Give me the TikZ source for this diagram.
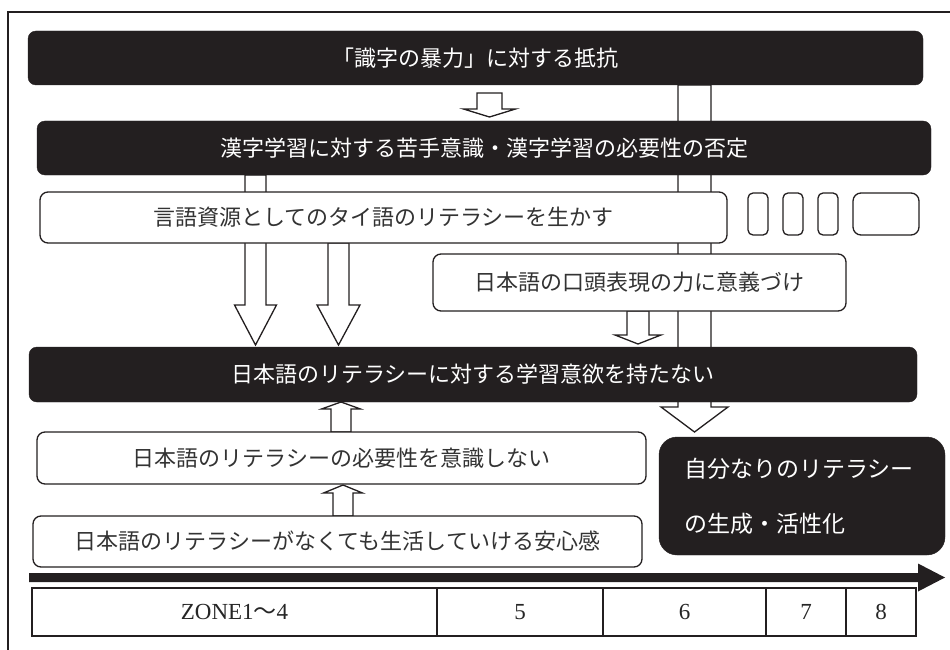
\documentclass[tikz,border=0pt]{standalone}
\usepackage{fontspec}
\newfontfamily\jp{Noto Sans CJK JP}
\newfontfamily\zf{Liberation Serif}
\usetikzlibrary{calc}
\definecolor{ink}{HTML}{231F20}
\newcommand{\zonefont}{\zf\fontsize{23}{27}\selectfont}
\tikzset{
  blackbox/.style={rounded corners=8pt, fill=ink, draw=ink, text=white, inner sep=0pt,
     font=\jp\fontsize{22}{26}\selectfont},
  whitebox/.style={rounded corners=8pt, fill=white, draw=ink, line width=1.3pt, text=black!80, inner sep=0pt,
     font=\jp\fontsize{22}{26}\selectfont},
  smallbox/.style={rounded corners=5pt, fill=white, draw=ink, line width=1.3pt, inner sep=0pt},
  hollow/.style={fill=white, draw=ink, line width=1.3pt, line join=miter},
  cell/.style={draw=ink, line width=1.3pt, inner sep=0pt, minimum height=48pt, text=black!85},
}
\newcommand{\blockarrow}[5]{%
  \draw[hollow] let \p1=(#1), \p2=(#2) in
   (\x1-#3,\y1) -- (\x1-#3,\y2+#5) -- (\x1-#4,\y2+#5) -- (\x1,\y2) -- (\x1+#4,\y2+#5) -- (\x1+#3,\y2+#5) -- (\x1+#3,\y1) -- cycle;}
\begin{document}
\begin{tikzpicture}[x=1pt,y=-1pt]
\useasboundingbox (0,0) rectangle (950,650);
% frame
\draw[ink, line width=1.5pt] (8,650) -- (8,12) -- (950,12);
% arrow end points
\coordinate (a0s) at (489.5,93);  \coordinate (a0t) at (489.5,117);
\coordinate (a1s) at (694.5,85);  \coordinate (a1t) at (694.5,432);
\coordinate (a2s) at (255.5,175); \coordinate (a2t) at (255.5,345);
\coordinate (a3s) at (338.5,243); \coordinate (a3t) at (338.5,345);
\coordinate (a4s) at (638,311);   \coordinate (a4t) at (638,344);
\coordinate (a5s) at (341,432);   \coordinate (a5t) at (341,402);
\coordinate (a6s) at (343,516);   \coordinate (a6t) at (343,485);
% hollow arrows (behind the boxes)
\blockarrow{a0s}{a0t}{12.5pt}{26pt}{8pt}
\blockarrow{a1s}{a1t}{16.5pt}{33.5pt}{25pt}
\blockarrow{a2s}{a2t}{10.5pt}{21pt}{40pt}
\blockarrow{a3s}{a3t}{10.5pt}{21.5pt}{40pt}
\blockarrow{a4s}{a4t}{11pt}{23pt}{9pt}
\blockarrow{a5s}{a5t}{10pt}{19.5pt}{-7pt}
\blockarrow{a6s}{a6t}{10pt}{19.5pt}{-8pt}
% boxes
\node[blackbox, minimum width=895pt, minimum height=54pt] (b1) at (475.5,58) {「識字の暴力」に対する抵抗};
\node[blackbox, minimum width=894pt, minimum height=54pt] (b2) at (484,148) {漢字学習に対する苦手意識・漢字学習の必要性の否定};
\node[whitebox, minimum width=687pt, minimum height=51pt] (b3) at (383.5,217.5) {言語資源としてのタイ語のリテラシーを生かす};
\node[smallbox, minimum width=20pt, minimum height=42pt] (s1) at (758,214) {};
\node[smallbox, minimum width=20pt, minimum height=42pt] (s2) at (793,214) {};
\node[smallbox, minimum width=20pt, minimum height=42pt] (s3) at (828,214) {};
\node[smallbox, rounded corners=8pt, minimum width=66pt, minimum height=42pt] (s4) at (886,214) {};
\node[whitebox, minimum width=413pt, minimum height=57pt] (b4) at (639.5,282.5) {日本語の口頭表現の力に意義づけ};
\node[blackbox, minimum width=888pt, minimum height=55pt] (b5) at (473,374.5) {日本語のリテラシーに対する学習意欲を持たない};
\node[whitebox, minimum width=609pt, minimum height=52pt] (b6) at (341.5,458) {日本語のリテラシーの必要性を意識しない};
\node[whitebox, minimum width=609pt, minimum height=51pt] (b7) at (337.5,541.5) {日本語のリテラシーがなくても生活していける安心感};
\node[blackbox, rounded corners=18pt, minimum height=118pt, text width=236pt, inner xsep=25pt, align=left,
      font=\jp\fontsize{23}{55}\selectfont] (b8) at (802,496) {自分なりのリテラシー\\の生成・活性化};
% time axis
\coordinate (ax0) at (29,577.5);
\coordinate (ax1) at (945,577.5);
\fill[ink] let \p1=(ax0), \p2=(ax1) in
  (\x1,\y1+4.5pt) -- (\x2-27pt,\y1+4.5pt) -- (\x2-27pt,\y1+14pt) -- (\x2,\y2) -- (\x2-27pt,\y1-14pt) -- (\x2-27pt,\y1-4.5pt) -- (\x1,\y1-4.5pt) -- cycle;
% zone table
\node[cell, minimum width=405pt] (z1) at (234.5,612) {\zonefont ZONE1{\jp\fontsize{23}{27}\selectfont 〜}4};
\node[cell, minimum width=166pt] (z2) at (520,612) {\zonefont 5};
\node[cell, minimum width=163pt] (z3) at (684.5,612) {\zonefont 6};
\node[cell, minimum width=80pt] (z4) at (806,612) {\zonefont 7};
\node[cell, minimum width=70pt] (z5) at (881,612) {\zonefont 8};
\end{tikzpicture}
\end{document}
